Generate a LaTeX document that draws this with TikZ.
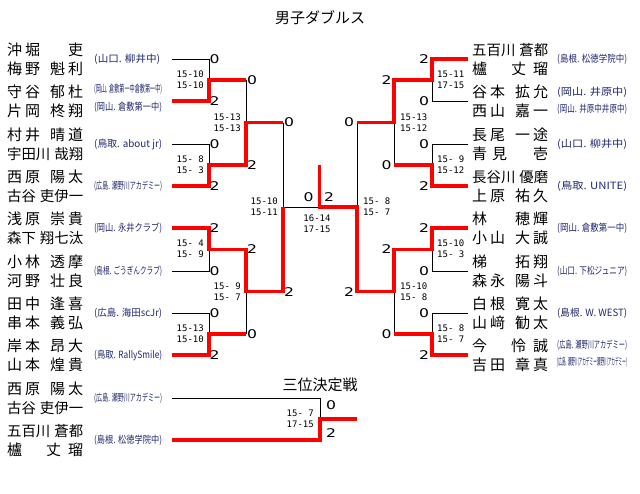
\documentclass[tikz,border=0pt]{standalone}
\usepackage{fontspec}
\usepackage{graphicx}
\setmainfont{Noto Sans CJK JP}
\newfontfamily\digitfont{DejaVu Sans}
\newfontfamily\scorefont{DejaVu Sans Mono}
\definecolor{affc}{RGB}{32,40,110}
\definecolor{wred}{RGB}{255,0,0}
\newcommand\pn[2]{\hbox to 76pt{#1\hfill#2}}
\newcommand\pnf[2]{\hbox to 76pt{\fontsize{14.4}{15}\selectfont#1\hfill#2}}
\newcommand\ks{\kern3pt}
\newcommand\afL[1]{\resizebox{68pt}{\height}{#1}}
\newcommand\afR[1]{\resizebox{70pt}{\height}{#1}}
\newcommand\dg[1]{\scalebox{1.3}[1]{#1}}
\newcommand\fs{\phantom{0}}
\begin{document}
\begin{tikzpicture}[x=1pt,y=-1pt,
  blk/.style={draw=black,line width=1pt},
  win/.style={draw=wred,line width=3.2pt},
  nm/.style={anchor=base west,inner sep=0pt,font=\fontsize{15}{15}\selectfont},
  af/.style={anchor=base west,inner sep=0pt,text=affc,font=\fontsize{10}{10}\selectfont},
  dgt/.style={inner sep=0pt,font=\fontsize{12}{12}\digitfont},
  ptsL/.style={anchor=east,inner sep=0pt,align=right,font=\fontsize{9}{11}\scorefont},
  ptsR/.style={anchor=west,inner sep=0pt,align=left,font=\fontsize{9}{11}\scorefont},
  ptsC/.style={inner sep=0pt,align=center,font=\fontsize{9}{11}\scorefont},
  ttl/.style={inner sep=0pt,font=\fontsize{15}{15}\selectfont}]
\useasboundingbox (0,0) rectangle (640,493);
\fill[white] (0,0) rectangle (640,493);

% ---------- coordinates ----------
\foreach \i/\y in {1/59,2/101,3/144,4/186,5/228,6/271,7/313,8/355}{
  \coordinate (LT\i) at (172,\y);
  \coordinate (LA\i) at (209,\y);
  \coordinate (RT\i) at (468,\y);
  \coordinate (RA\i) at (432,\y);
}
\foreach \i/\y in {1/80,2/165,3/249.5,4/334}{
  \coordinate (LB\i) at (209,\y);
  \coordinate (LC\i) at (246,\y);
  \coordinate (RB\i) at (432,\y);
  \coordinate (RC\i) at (394,\y);
}
\foreach \i/\y in {1/122.5,2/291.75}{
  \coordinate (LD\i) at (246,\y);
  \coordinate (LE\i) at (283,\y);
  \coordinate (RD\i) at (394,\y);
  \coordinate (RE\i) at (357,\y);
}
\coordinate (LF) at (283,207);
\coordinate (RF) at (357,207);
\coordinate (CF) at (319.5,207);
\coordinate (CT) at (319.5,165);
\coordinate (TP1) at (172,398);
\coordinate (TP2) at (172,440);
\coordinate (TV1) at (320,398);
\coordinate (TV2) at (320,440);
\coordinate (TVm) at (320,419);
\coordinate (TO) at (357,419);

% ---------- black bracket ----------
\foreach \a/\b in {1/2,3/4,5/6,7/8}{
  \draw[blk] (LT\a) -- (LA\a) -- (LA\b) -- (LT\b);
  \draw[blk] (RT\a) -- (RA\a) -- (RA\b) -- (RT\b);
}
\draw[blk] (LC1) -- (LC2);
\draw[blk] (LC3) -- (LC4);
\draw[blk] (LE1) -- (LE2);
\draw[blk] (RC1) -- (RC2);
\draw[blk] (RC3) -- (RC4);
\draw[blk] (RE1) -- (RE2);
\draw[blk] (LF) -- (RF);
\draw[blk] (TP1) -- (TV1) -- (TV2);

% ---------- red winner paths ----------
\draw[win] (LT2) -- (LA2) -- (LB1) -- (LC1);
\draw[win] (LT4) -- (LA4) -- (LB2) -- (LC2) -- (LD1) -- (LE1);
\draw[win] (LT5) -- (LA5) -- (LB3) -- (LC3) -- (LD2) -- (LE2) -- (LF);
\draw[win] (LT8) -- (LA8) -- (LB4) -- (LC4);
\draw[win] (RT1) -- (RA1) -- (RB1) -- (RC1) -- (RD1) -- (RE1);
\draw[win] (RT4) -- (RA4) -- (RB2) -- (RC2);
\draw[win] (RT5) -- (RA5) -- (RB3) -- (RC3) -- (RD2) -- (RE2) -- (RF) -- (CF) -- (CT);
\draw[win] (RT8) -- (RA8) -- (RB4) -- (RC4);
\draw[win] (TP2) -- (TV2) -- (TVm) -- (TO);

% ---------- titles ----------
\node[ttl] (title) at (320,18) {男子ダブルス};
\node[ttl] (title3) at (320,385) {三位決定戦};

% ---------- left names ----------
\node[nm] (nl1a) at (7,55.2) {\pn{沖\ks 堀}{吏}};
\node[nm] (nl1b) at (7,74.2) {\pn{梅\ks 野}{魁\ks 利}};
\node[nm] (nl2a) at (7,97.2) {\pn{守\ks 谷}{郁\ks 杜}};
\node[nm] (nl2b) at (7,116.2) {\pn{片\ks 岡}{柊\ks 翔}};
\node[nm] (nl3a) at (7,140.2) {\pn{村\ks 井}{晴\ks 道}};
\node[nm] (nl3b) at (7,159.2) {\pnf{宇田川}{哉翔}};
\node[nm] (nl4a) at (7,182.2) {\pn{西\ks 原}{陽\ks 太}};
\node[nm] (nl4b) at (7,201.2) {\pnf{古谷}{吏伊一}};
\node[nm] (nl5a) at (7,224.2) {\pn{浅\ks 原}{崇\ks 貴}};
\node[nm] (nl5b) at (7,243.2) {\pnf{森下}{翔七汰}};
\node[nm] (nl6a) at (7,267.2) {\pn{小\ks 林}{透\ks 摩}};
\node[nm] (nl6b) at (7,286.2) {\pn{河\ks 野}{壮\ks 良}};
\node[nm] (nl7a) at (7,309.2) {\pn{田\ks 中}{逢\ks 喜}};
\node[nm] (nl7b) at (7,328.2) {\pn{串\ks 本}{義\ks 弘}};
\node[nm] (nl8a) at (7,351.2) {\pn{岸\ks 本}{昂\ks 大}};
\node[nm] (nl8b) at (7,370.2) {\pn{山\ks 本}{煌\ks 貴}};
\node[nm] (nt1a) at (7,394.2) {\pn{西\ks 原}{陽\ks 太}};
\node[nm] (nt1b) at (7,413.2) {\pnf{古谷}{吏伊一}};
\node[nm] (nt2a) at (7,436.2) {\pnf{五百川}{蒼都}};
\node[nm] (nt2b) at (7,455.2) {\pn{櫨}{丈\kern7pt 瑠}};

% ---------- right names ----------
\node[nm] (nr1a) at (472,55.2) {\pnf{五百川}{蒼都}};
\node[nm] (nr1b) at (472,74.2) {\pn{櫨}{丈\kern7pt 瑠}};
\node[nm] (nr2a) at (472,97.2) {\pn{谷\ks 本}{拡\ks 允}};
\node[nm] (nr2b) at (472,116.2) {\pn{西\ks 山}{嘉\ks 一}};
\node[nm] (nr3a) at (472,140.2) {\pn{長\ks 尾}{一\ks 途}};
\node[nm] (nr3b) at (472,159.2) {\pn{青\kern5pt 見}{壱}};
\node[nm] (nr4a) at (472,182.2) {\pnf{長谷川}{優磨}};
\node[nm] (nr4b) at (472,201.2) {\pn{上\ks 原}{祐\ks 久}};
\node[nm] (nr5a) at (472,224.2) {\pn{林}{穂\ks 輝}};
\node[nm] (nr5b) at (472,243.2) {\pn{小\ks 山}{大\ks 誠}};
\node[nm] (nr6a) at (472,267.2) {\pn{梯}{拓\ks 翔}};
\node[nm] (nr6b) at (472,286.2) {\pn{森\ks 永}{陽\ks 斗}};
\node[nm] (nr7a) at (472,309.2) {\pn{白\ks 根}{寛\ks 太}};
\node[nm] (nr7b) at (472,328.2) {\pn{山\ks 﨑}{勧\ks 太}};
\node[nm] (nr8a) at (472,351.2) {\pn{今}{怜\kern7pt 誠}};
\node[nm] (nr8b) at (472,370.2) {\pn{吉\ks 田}{章\ks 真}};

% ---------- left affiliations ----------
\node[af] (al1) at (94,62.8) {\resizebox{66pt}{\height}{(山口. 柳井中)}};
\node[af] (al2a) at (94,92.8) {\afL{(岡山. 倉敷第一中倉敷第一中)}};
\node[af] (al2b) at (94,110) {\afL{(岡山. 倉敷第一中)}};
\node[af] (al3) at (94,147.8) {\afL{(鳥取. about jr)}};
\node[af] (al4) at (94,189.8) {\afL{(広島. 瀬野川アカデミー)}};
\node[af] (al5) at (94,231.8) {\afL{(岡山. 永井クラブ)}};
\node[af] (al6) at (94,274.8) {\afL{(島根. ごうぎんクラブ)}};
\node[af] (al7) at (94,316.8) {\afL{(広島. 海田scJr)}};
\node[af] (al8) at (94,358.8) {\afL{(鳥取. RallySmile)}};
\node[af] (at1) at (94,401.8) {\afL{(広島. 瀬野川アカデミー)}};
\node[af] (at2) at (94,443.8) {\afL{(島根. 松徳学院中)}};

% ---------- right affiliations ----------
\node[af] (ar1) at (557,62.8) {\afR{(島根. 松徳学院中)}};
\node[af] (ar2a) at (557,95.8) {\afR{(岡山. 井原中)}};
\node[af] (ar2b) at (557,112.8) {\afR{(岡山. 井原中井原中)}};
\node[af] (ar3) at (557,147.8) {\afR{(山口. 柳井中)}};
\node[af] (ar4) at (557,189.8) {\afR{(鳥取. UNITE)}};
\node[af] (ar5) at (557,231.8) {\afR{(岡山. 倉敷第一中)}};
\node[af] (ar6) at (557,274.8) {\afR{(山口. 下松ジュニア)}};
\node[af] (ar7) at (557,316.8) {\afR{(島根. W. WEST)}};
\node[af] (ar8a) at (557,348.8) {\afR{(広島. 瀬野川アカデミー)}};
\node[af] (ar8b) at (557,365.8) {\afR{(広島. 瀬野川アカデミー瀬野川アカデミー)}};

% ---------- game counts ----------
\node[dgt] (gl1) at (214.5,59) {\dg{0}};
\node[dgt] (gl2) at (214.5,101) {\dg{2}};
\node[dgt] (gl3) at (214.5,144) {\dg{0}};
\node[dgt] (gl4) at (214.5,186) {\dg{2}};
\node[dgt] (gl5) at (214.5,228) {\dg{2}};
\node[dgt] (gl6) at (214.5,271) {\dg{0}};
\node[dgt] (gl7) at (214.5,313) {\dg{0}};
\node[dgt] (gl8) at (214.5,355) {\dg{2}};
\node[dgt] (hl1) at (252,80) {\dg{0}};
\node[dgt] (hl2) at (252,165) {\dg{2}};
\node[dgt] (hl3) at (252,249.5) {\dg{2}};
\node[dgt] (hl4) at (252,334) {\dg{0}};
\node[dgt] (kl1) at (289,122.5) {\dg{0}};
\node[dgt] (kl2) at (289,291.75) {\dg{2}};
\node[dgt] (fl) at (308.5,197.5) {\dg{0}};
\node[dgt] (fr) at (329,197.5) {\dg{2}};
\node[dgt] (gr1) at (424,59) {\dg{2}};
\node[dgt] (gr2) at (424,101) {\dg{0}};
\node[dgt] (gr3) at (424,144) {\dg{0}};
\node[dgt] (gr4) at (424,186) {\dg{2}};
\node[dgt] (gr5) at (424,228) {\dg{2}};
\node[dgt] (gr6) at (424,271) {\dg{0}};
\node[dgt] (gr7) at (424,313) {\dg{0}};
\node[dgt] (gr8) at (424,355) {\dg{2}};
\node[dgt] (hr1) at (386.5,80) {\dg{2}};
\node[dgt] (hr2) at (386.5,165) {\dg{0}};
\node[dgt] (hr3) at (386.5,249.5) {\dg{2}};
\node[dgt] (hr4) at (386.5,334) {\dg{0}};
\node[dgt] (kr1) at (349,122.5) {\dg{0}};
\node[dgt] (kr2) at (349,291.75) {\dg{2}};
\node[dgt] (tg1) at (331,405) {\dg{0}};
\node[dgt] (tg2) at (331,433) {\dg{2}};

% ---------- set scores ----------
\node[ptsL] (sl1) at (204,80) {15-10\\15-10};
\node[ptsL] (sl2) at (204,164.5) {15-\fs 8\\15-\fs 3};
\node[ptsL] (sl3) at (204,249) {15-\fs 4\\15-\fs 9};
\node[ptsL] (sl4) at (204,334) {15-13\\15-10};
\node[ptsL] (tl1) at (241,122.5) {15-13\\15-13};
\node[ptsL] (tl2) at (241,291.75) {15-\fs 9\\15-\fs 7};
\node[ptsL] (ul) at (278,207) {15-10\\15-11};
\node[ptsC] (fin) at (317,224) {16-14\\17-15};
\node[ptsR] (sr1) at (437,80) {15-11\\17-15};
\node[ptsR] (sr2) at (437,164.5) {15-\fs 9\\15-12};
\node[ptsR] (sr3) at (437,249) {15-10\\15-\fs 3};
\node[ptsR] (sr4) at (437,334) {15-\fs 8\\15-\fs 7};
\node[ptsR] (tr1) at (400,122.5) {15-13\\15-12};
\node[ptsR] (tr2) at (400,291.75) {15-10\\15-\fs 8};
\node[ptsR] (ur) at (363,207) {15-\fs 8\\15-\fs 7};
\node[ptsL] (thr) at (314,418.5) {15-\fs 7\\17-15};
\end{tikzpicture}
\end{document}
